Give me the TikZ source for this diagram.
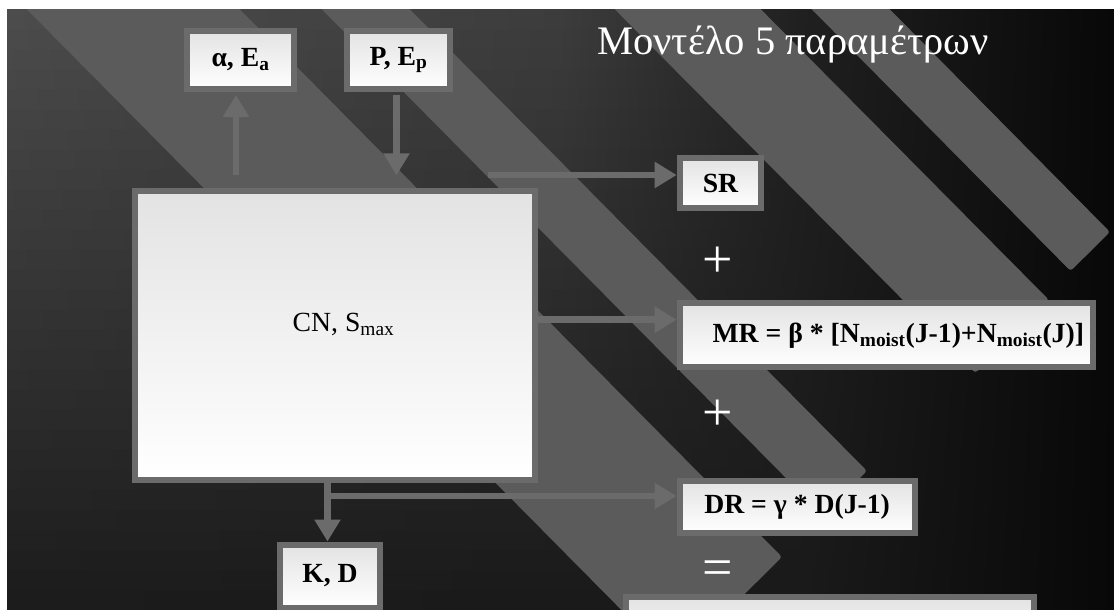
\documentclass[tikz,border=0pt]{standalone}
\usepackage{fontspec}
\setmainfont{Liberation Serif}
\usepackage{tikz}
\usetikzlibrary{positioning}
\usetikzlibrary{arrows.meta}

\definecolor{bgA}{HTML}{4C4C4C}
\definecolor{bgB}{HTML}{3C3C3C}
\definecolor{bgC}{HTML}{202020}
\definecolor{bgD}{HTML}{1C1C1C}
\definecolor{bgE}{HTML}{1A1A1A}
\definecolor{bgF}{HTML}{080808}
\definecolor{stripegray}{HTML}{5B5B5B}
\definecolor{framegray}{HTML}{6B6B6B}
\definecolor{boxtop}{HTML}{E3E3E3}

\newcommand{\lblfont}{\fontsize{27.7}{32}\selectfont\bfseries}
\newcommand{\cnfont}{\fontsize{27.7}{32}\selectfont}
\newcommand{\signfont}{\fontsize{54}{60}\selectfont}
\newcommand{\headfont}{\fontsize{40.5}{46}\selectfont}

\tikzset{
  modelbox/.style={draw=framegray, line width=6pt, top color=boxtop, bottom color=white, inner sep=0pt, font=\lblfont},
  flow/.style={draw=framegray, line width=6.5pt, -{Triangle[width=25pt,length=22pt]}},
  stripe/.style={fill=stripegray, rounded corners=3pt},
  sign/.style={text=white, font=\signfont, inner sep=0pt}
}

\begin{document}
\begin{tikzpicture}[x=1pt,y=-1pt]
                \useasboundingbox (0,0) rectangle (1114,610);
                \begin{scope}
                \clip (7,9.5) rectangle (1114,610);
                \foreach \r in {0,...,29}{
                    \pgfmathtruncatemacro{\f}{100-\r*100/29}
                    \pgfmathsetmacro{\ya}{9.5+\r*20.02}
                    \pgfmathsetmacro{\yb}{\ya+21}
                    \shade[left color=bgA!\f!bgD, right color=bgB!\f!bgE] (7,\ya) rectangle (560.5,\yb);
                    \shade[left color=bgB!\f!bgE, right color=bgC!\f!bgE] (560,\ya) rectangle (800.5,\yb);
                    \shade[left color=bgC!\f!bgE, right color=bgF] (800,\ya) rectangle (1114,\yb);
                }
                \fill[stripe] (-2.2,-20) -- (210.8,-20) -- (782,557) -- (674.4,663.5) -- cycle;
                \fill[stripe] (292.8,-20) -- (380.8,-20) -- (867,471) -- (822.6,515) -- cycle;
                \fill[stripe] (585.8,-20) -- (731.8,-20) -- (1049,300) -- (975.3,373) -- cycle;
                \fill[stripe] (782.8,-20) -- (860.8,-20) -- (1110,232) -- (1070.6,271) -- cycle;
                \end{scope}

                \node[anchor=base west, text=white, font=\headfont, inner sep=0pt] (title) at (597,55) {Μοντέλο 5 παραμέτρων};

                \node[modelbox, minimum width=107pt, minimum height=58pt] (alpha) at (240.5,60) {α, E\textsubscript{a}};
                \node[modelbox, minimum width=103pt, minimum height=58pt] (pep) at (398.5,60) {P, E\textsubscript{p}};
                \node[modelbox, font=\cnfont, minimum width=400.6pt, minimum height=289pt, text height=12pt, text depth=20.2pt] (cn) at (335,335.8) {\hspace*{17pt}CN, S\textsubscript{max}};
                \node[modelbox, minimum width=81.6pt, minimum height=50.5pt] (sr) at (720.5,183.2) {SR};
                \node[modelbox, minimum width=413.3pt, minimum height=64.5pt] (mr) at (886.3,335.2) {\hspace*{24pt}MR = β * [N\textsubscript{moist}(J-1)+N\textsubscript{moist}(J)]};
                \node[modelbox, minimum width=235pt, minimum height=52.5pt] (dr) at (797.1,506.8) {DR = γ * D(J-1)};
                \node[modelbox, minimum width=100pt, minimum height=63pt] (kd) at (330,576) {K, D};
                \node[modelbox, minimum width=408pt, minimum height=70pt] (res) at (830,632) {};

                \node[sign] (plusa) at (717.5,262.5) {+};
                \node[sign] (plusb) at (717.5,415) {+};
                \node[sign] (equal) at (717.7,573.3) {=};

                \draw[flow, shorten <=13pt, shorten >=3pt] ([xshift=-4.5pt]alpha.south |- cn.north) -- ([xshift=-4.5pt]alpha.south);
                \draw[flow, shorten <=3pt, shorten >=13pt] ([xshift=-2pt]pep.south) -- ([xshift=-2pt]pep.south |- cn.north);
                \coordinate (srtail) at (488,175);
                \draw[flow] (srtail) -- (srtail -| sr.west);
                \draw[flow] ([yshift=15.5pt]mr.west -| cn.east) -- ([yshift=15.5pt]mr.west);
                \draw[flow] ([xshift=-2.5pt]kd.north |- cn.south) -- ([xshift=-2.5pt]kd.north);
                \coordinate (split) at (327.5,496);
                \draw[flow] (split) -- (split -| dr.west);
            \end{tikzpicture}
\end{document}
